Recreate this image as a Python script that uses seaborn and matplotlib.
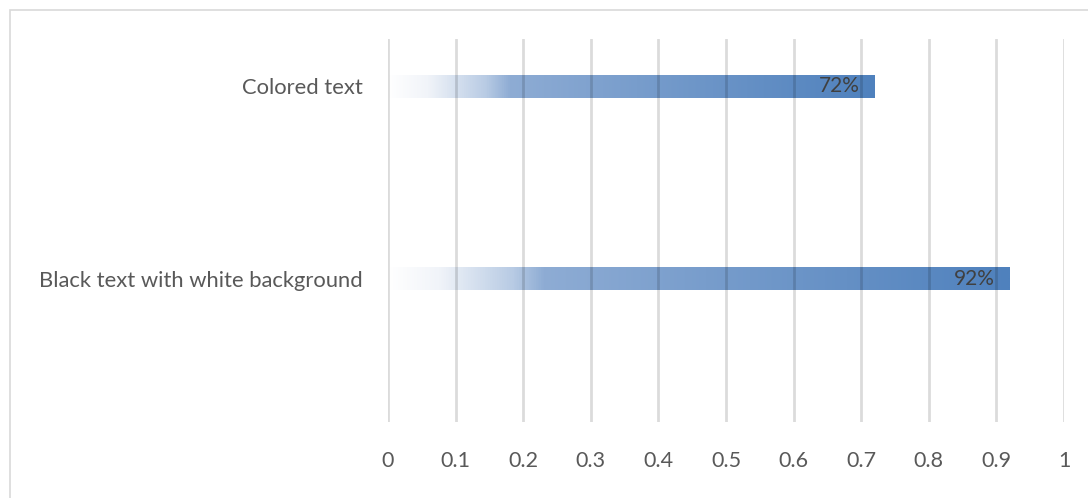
import numpy as np
import pandas as pd
import matplotlib
matplotlib.use("Agg")
import matplotlib.pyplot as plt
import seaborn as sns
from matplotlib.colors import LinearSegmentedColormap
from matplotlib.patches import Rectangle

categories = ["Colored text", "Black text with white background"]
values = [0.72, 0.92]
value_labels = ["72%", "92%"]
x_ticks = [0, 0.1, 0.2, 0.3, 0.4, 0.5, 0.6, 0.7, 0.8, 0.9, 1]
x_tick_labels = ["0", "0.1", "0.2", "0.3", "0.4", "0.5", "0.6", "0.7", "0.8", "0.9", "1"]

sns.set_theme(style="white")
plt.rcParams["font.family"] = ["Lato", "DejaVu Sans"]

df = pd.DataFrame({"category": categories, "value": values})

fig = plt.figure(figsize=(10.88, 4.98), dpi=100)
W, H = 1088, 498
ax = fig.add_axes([388 / W, (H - 422) / H, (1064 - 388) / W, (422 - 39) / H])

sns.barplot(data=df, x="value", y="category", orient="h", width=0.12,
            color="#4f81bd", ax=ax, zorder=1)

cmap = LinearSegmentedColormap.from_list(
    "grad", [(0.0, "#ffffff"), (0.08, "#f1f4f9"), (0.2, "#b8cbe4"),
             (0.25, "#8eacd4"), (1.0, "#4f81bd")])
grad = np.linspace(0, 1, 512).reshape(1, -1)
for p in ax.patches:
    x0, y0 = p.get_x(), p.get_y()
    w, h = p.get_width(), p.get_height()
    im = ax.imshow(grad, cmap=cmap, aspect="auto", interpolation="bilinear",
                   extent=(x0, x0 + w, y0 + h, y0), zorder=1)
    im.set_clip_path(p)
    p.set_facecolor("none")
    p.set_edgecolor("none")

ax.set_xlim(0, 1)
ax.set_ylim(1.747, -0.247)
ax.set_xticks(x_ticks)
ax.set_xticklabels(x_tick_labels)
ax.set_xlabel("")
ax.set_ylabel("")
for s in ax.spines.values():
    s.set_visible(False)

for xt in x_ticks:
    ax.axvline(xt, color="black", alpha=0.14, lw=2.0, zorder=3)

ax.tick_params(axis="x", length=0, pad=21, labelsize=15.5, labelcolor="#595959")
ax.tick_params(axis="y", length=0, pad=18, labelsize=15.8, labelcolor="#595959")

for i, (v, lab) in enumerate(zip(values, value_labels)):
    ax.annotate(lab, xy=(v, i), xytext=(-11, 0), textcoords="offset points",
                ha="right", va="center", fontsize=15, color="#404040", zorder=4)

fig.add_artist(Rectangle((10 / W, -0.1), 1.2, 1.1 - 10 / H,
                         transform=fig.transFigure, fill=False,
                         edgecolor="#d9d9d9", lw=1.2))

fig.savefig("out.png", dpi=100)
